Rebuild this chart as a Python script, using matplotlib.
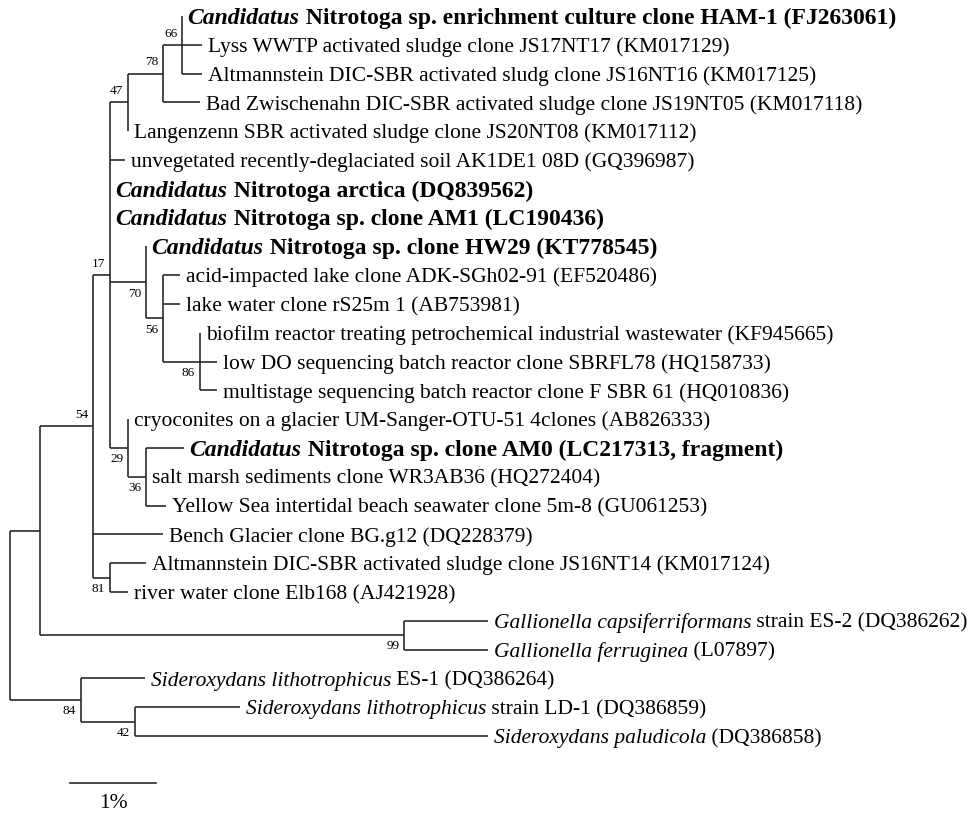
import matplotlib
matplotlib.use("Agg")
import matplotlib.pyplot as plt

plt.rcParams['font.family'] = ['Liberation Serif', 'DejaVu Serif']

# tree: leaf numbers refer to the label lists below, internal labels are bootstrap values
newick = ("(((((((0:0,1:0.233,2:0.233)66:0.221,3:0.430)78:0.407,4:0)47:0.209,"
          "5:0.174,6:0,7:0,(8:0,(9:0.198,10:0.198,(11:0,12:0.198,13:0.198)86:0.430)56:0.198)70:0.419,"
          "(14:0,(15:0.442,16:0,17:0.233)36:0.209)29:0.209)17:0.198,"
          "18:0.814,(19:0.419,20:0.209)81:0.198)54:0.616,"
          "(21:0.977,22:0.977)99:4.233):0.349,"
          "(23:0.744,(24:1.221,25:4.105)42:0.628)84:0.826);")

italic_part = ["Candidatus", "", "", "", "", "",
               "Candidatus", "Candidatus", "Candidatus",
               "", "", "", "", "", "",
               "Candidatus", "", "", "", "", "",
               "Gallionella capsiferriformans", "Gallionella ferruginea",
               "Sideroxydans lithotrophicus", "Sideroxydans lithotrophicus",
               "Sideroxydans paludicola"]
plain_part = [" Nitrotoga sp. enrichment culture clone HAM-1 (FJ263061)",
              "Lyss WWTP activated sludge clone JS17NT17 (KM017129)",
              "Altmannstein DIC-SBR activated sludg clone JS16NT16 (KM017125)",
              "Bad Zwischenahn DIC-SBR activated sludge clone JS19NT05 (KM017118)",
              "Langenzenn SBR activated sludge clone JS20NT08 (KM017112)",
              "unvegetated recently-deglaciated soil AK1DE1 08D (GQ396987)",
              " Nitrotoga arctica (DQ839562)",
              " Nitrotoga sp. clone AM1 (LC190436)",
              " Nitrotoga sp. clone HW29 (KT778545)",
              "acid-impacted lake clone ADK-SGh02-91 (EF520486)",
              "lake water clone rS25m 1 (AB753981)",
              "biofilm reactor treating petrochemical industrial wastewater (KF945665)",
              "low DO sequencing batch reactor clone SBRFL78 (HQ158733)",
              "multistage sequencing batch reactor clone F SBR 61 (HQ010836)",
              "cryoconites on a glacier UM-Sanger-OTU-51 4clones (AB826333)",
              " Nitrotoga sp. clone AM0 (LC217313, fragment)",
              "salt marsh sediments clone WR3AB36 (HQ272404)",
              "Yellow Sea intertidal beach seawater clone 5m-8 (GU061253)",
              "Bench Glacier clone BG.g12 (DQ228379)",
              "Altmannstein DIC-SBR activated sludge clone JS16NT14 (KM017124)",
              "river water clone Elb168 (AJ421928)",
              " strain ES-2 (DQ386262)",
              " (L07897)",
              " ES-1 (DQ386264)",
              " strain LD-1 (DQ386859)",
              " (DQ386858)"]
bold_leaves = {0, 6, 7, 8, 15}
boot_above = {"66", "78", "47", "17", "54"}
scale_len = 1.0
scale_text = "1%"


def parse(s, i=0):
    node = {"children": [], "name": "", "length": 0.0}
    if s[i] == "(":
        i += 1
        while True:
            child, i = parse(s, i)
            node["children"].append(child)
            if s[i] == ",":
                i += 1
            else:
                i += 1  # ')'
                break
    j = i
    while s[i] not in ",():;":
        i += 1
    node["name"] = s[j:i]
    if s[i] == ":":
        i += 1
        j = i
        while s[i] not in ",();":
            i += 1
        node["length"] = float(s[j:i])
    return node, i


tree, _ = parse(newick)


def layout(node, x0):
    node["x"] = x0 + node["length"]
    if not node["children"]:
        node["y"] = int(node["name"])
    else:
        for c in node["children"]:
            layout(c, node["x"])
        node["y"] = (node["children"][0]["y"] + node["children"][-1]["y"]) / 2


tree["length"] = 0.0
layout(tree, 0.0)

fig = plt.figure(figsize=(9.73, 8.14), dpi=100)
ax = fig.add_axes([0, 0, 1, 1])
ax.set_xlim(-10 / 86, 963 / 86)
ax.set_ylim((814 - 16) / 28.8, -16 / 28.8)
ax.axis("off")

lc = "#2b2b2b"
lw = 1.2
fs = 15.5
fs_bold = 17
renderer = fig.canvas.get_renderer()


def draw(node):
    ch = node["children"]
    if not ch:
        k = int(node["name"])
        bold = k in bold_leaves
        weight = "bold" if bold else "normal"
        size = fs_bold if bold else fs
        dx = 4.0
        dy = -0.33 * size
        if italic_part[k]:
            t = ax.annotate(italic_part[k], (node["x"], node["y"]), xytext=(dx, dy),
                            textcoords="offset points", fontsize=size, fontstyle="italic",
                            fontweight=weight, va="baseline", ha="left")
            dx += t.get_window_extent(renderer).width * 72 / fig.dpi
        ax.annotate(plain_part[k], (node["x"], node["y"]), xytext=(dx, dy),
                    textcoords="offset points", fontsize=size, fontweight=weight,
                    va="baseline", ha="left")
        return
    ax.plot([node["x"], node["x"]], [ch[0]["y"], ch[-1]["y"]], color=lc, lw=lw,
            solid_capstyle="butt")
    for c in ch:
        ax.plot([node["x"], c["x"]], [c["y"], c["y"]], color=lc, lw=lw,
                solid_capstyle="butt")
        draw(c)
    if node["name"]:
        off = 8 if node["name"] in boot_above else -8
        ax.annotate(node["name"], (node["x"], node["y"]), xytext=(-3.5, off),
                    textcoords="offset points", fontsize=9.5, ha="right", va="center")


draw(tree)

# scale bar
bar_x = 0.70
bar_y = 26.63
ax.plot([bar_x, bar_x + scale_len], [bar_y, bar_y], color=lc, lw=lw)
ax.annotate(scale_text, (bar_x + scale_len / 2, bar_y), xytext=(0, -15),
            textcoords="offset points", fontsize=fs, ha="center", va="center")

fig.savefig("out.png", dpi=100, facecolor="white")
